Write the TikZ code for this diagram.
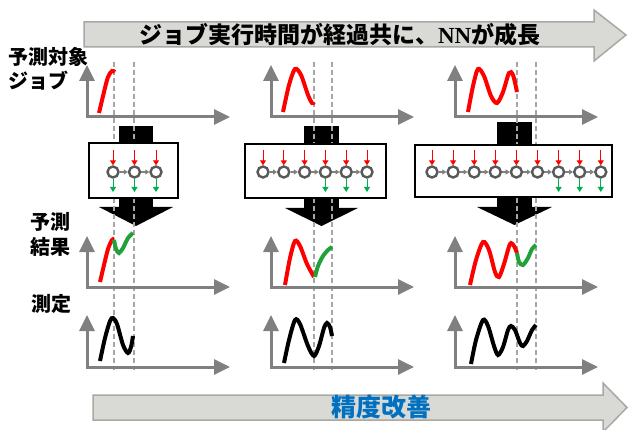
\documentclass[tikz,border=0pt]{standalone}
\usepackage{fontspec}
\newfontfamily\jp{Noto Sans CJK JP}
\newfontfamily\tms{Liberation Serif}
\usetikzlibrary{arrows.meta}
\definecolor{axisgray}{HTML}{808080}
\definecolor{dashgray}{HTML}{A6A6A6}
\definecolor{bandfill}{HTML}{D9D9D5}
\definecolor{bandline}{HTML}{A8A8A4}
\definecolor{nngray}{HTML}{595959}
\definecolor{curvered}{HTML}{FF0000}
\definecolor{curvegreen}{HTML}{22A03A}
\definecolor{arrgreen}{HTML}{00B050}
\definecolor{txtblue}{HTML}{0070C0}
\tikzset{
  band/.style={fill=bandfill, draw=bandline, line width=1.5pt, line join=miter},
  bigarrow/.style={fill=black},
  dashline/.style={draw=dashgray, line width=1.5pt, dash pattern=on 5pt off 3pt},
  axis/.style={draw=axisgray, line width=3pt, line join=miter,
    {Triangle[length=16pt,width=15pt]}-{Triangle[length=16pt,width=15pt]}},
  redc/.style={draw=curvered, line width=4pt},
  greenc/.style={draw=curvegreen, line width=4pt},
  blackc/.style={draw=black, line width=4pt},
  nnbox/.style={draw=black, fill=white, line width=2pt, rectangle, inner sep=0pt},
  nn/.style={circle, draw=nngray, fill=white, line width=2.4pt, minimum size=11pt, inner sep=0pt, outer sep=1.2pt},
  link/.style={draw=axisgray, line width=1.5pt, -{Triangle[length=4pt,width=5pt]}},
  redarr/.style={draw=curvered, line width=1pt, -{Triangle[length=5pt,width=6pt]}},
  greenarr/.style={draw=arrgreen, line width=1pt, -{Triangle[length=5pt,width=6pt]}},
  lbl/.style={inner sep=0pt, anchor=west, font=\jp\bfseries\fontsize{20}{24}\selectfont},
}
\begin{document}
\begin{tikzpicture}[x=1pt,y=-1pt]
\useasboundingbox (0,0) rectangle (628,430);

% top band arrow
\draw[band] (84,22) -- (594,22) -- (594,10) -- (626,35) -- (594,61) -- (594,47) -- (84,47) -- cycle;
\node[inner sep=0pt, font=\jp\bfseries\fontsize{23}{27}\selectfont] (title) at (340,35)
  {ジョブ実行時間が経過共に、{\tms\bfseries NN}が成長};

% bottom band arrow
\draw[band] (93,395) -- (603,395) -- (603,383) -- (627,407.5) -- (603,432) -- (603,420) -- (93,420) -- cycle;
\node[inner sep=0pt, text=txtblue, font=\jp\bfseries\fontsize{25}{29}\selectfont] (improve) at (381,407) {精度改善};

% big black arrows
\fill[bigarrow] (119,126) rectangle (153,208);
\fill[bigarrow] (99,207) -- (173,207) -- (136,226) -- cycle;
\fill[bigarrow] (304,126) rectangle (339,209);
\fill[bigarrow] (285,208) -- (358,208) -- (321.5,226) -- cycle;
\fill[bigarrow] (497,122) rectangle (532,208);
\fill[bigarrow] (477,207) -- (552,207) -- (514.5,225) -- cycle;

% dashed guide lines
\foreach \xx in {114,134,314,332,517,536}
  \draw[dashline] (\xx,62) -- (\xx,370);

% NN boxes
\node[nnbox, minimum width=89pt, minimum height=55pt] (box1) at (133.5,170.5) {};
\node[nnbox, minimum width=141pt, minimum height=54pt] (box2) at (315.5,171) {};
\node[nnbox, minimum width=197pt, minimum height=52pt] (box3) at (513.5,171) {};

% column 1 network
\foreach \i in {0,1,2} \node[nn] (p\i) at ({113+21.5*\i},172) {};
\foreach \i/\j in {0/1,1/2} \draw[link] (p\i) -- (p\j);
\foreach \i in {0,1,2} {
  \draw[redarr] ([yshift=22pt]p\i.center) -- (p\i.north);
  \draw[greenarr] (p\i.south) -- ([yshift=-20pt]p\i.center);
}
% column 2 network
\foreach \i in {0,...,5} \node[nn] (q\i) at ({263+20.8*\i},172) {};
\foreach \i/\j in {0/1,1/2,2/3,3/4,4/5} \draw[link] (q\i) -- (q\j);
\foreach \i in {0,...,5} \draw[redarr] ([yshift=22pt]q\i.center) -- (q\i.north);
\foreach \i in {3,4,5} \draw[greenarr] (q\i.south) -- ([yshift=-20pt]q\i.center);
% column 3 network
\foreach \i in {0,...,8} \node[nn] (r\i) at ({432+21.1*\i},172) {};
\foreach \i/\j in {0/1,1/2,2/3,3/4,4/5,5/6,6/7,7/8} \draw[link] (r\i) -- (r\j);
\foreach \i in {0,...,8} \draw[redarr] ([yshift=22pt]r\i.center) -- (r\i.north);
\foreach \i in {6,7,8} \draw[greenarr] (r\i.south) -- ([yshift=-20pt]r\i.center);

% axes
\foreach \ox in {87,271,455} {
  \draw[axis] (\ox,65) -- (\ox,117) -- (\ox+143,117);
  \draw[axis] (\ox,236) -- (\ox,287) -- (\ox+143,287);
  \draw[axis] (\ox,315) -- (\ox,367) -- (\ox+143,367);
}

% row 1 curves (target job)
\draw[redc] plot[smooth] coordinates {(99,113) (104,92) (108,77) (112,71) (115,72)};
\draw[redc] plot[smooth] coordinates {(283,112) (289,85) (295,69) (301,75) (308,95) (312,103) (314,102)};
\draw[redc] plot[smooth] coordinates {(468,112) (473,86) (478,69) (484,76) (491,96) (497,103) (503,92) (509,73) (513,75) (517,92)};

% row 2 curves (prediction)
\draw[redc] plot[smooth] coordinates {(100,282) (104,265) (108,249) (112,240) (114,239)};
\draw[greenc] plot[smooth] coordinates {(114,240) (116,249) (119,253) (123,248) (128,238) (133,233)};
\draw[redc] plot[smooth] coordinates {(285,285) (290,258) (295,241) (300,246) (307,264) (314,277)};
\draw[greenc] plot[smooth] coordinates {(315,277) (318,266) (323,256) (328,250) (332,247)};
\draw[redc] plot[smooth] coordinates {(470,285) (476,260) (483,242) (489,250) (495,272) (499,277) (504,264) (510,244) (514,246) (517,253)};
\draw[greenc] plot[smooth] coordinates {(517,253) (519,262) (523,265) (528,258) (532,249) (536,245)};

% row 3 curves (measured)
\draw[blackc] plot[smooth] coordinates {(100,361) (105,338) (110,321) (113,318) (117,324) (123,345) (128,353) (131,347) (133,336)};
\draw[blackc] plot[smooth] coordinates {(284,363) (289,340) (295,320) (300,324) (308,346) (314,356) (319,346) (324,328) (327,323) (330,327) (332,336)};
\draw[blackc] plot[smooth] coordinates {(471,364) (476,340) (483,320) (488,326) (494,346) (498,355) (503,347) (508,330) (511,326) (515,330) (520,343) (523,346) (527,341) (532,330) (536,325)};

% labels
\node[lbl] (l1) at (8,57) {予測対象};
\node[lbl] (l2) at (8,81) {ジョブ};
\node[lbl] (l3) at (30,222) {予測};
\node[lbl] (l4) at (30,247) {結果};
\node[lbl] (l5) at (31,304) {測定};
\end{tikzpicture}
\end{document}
